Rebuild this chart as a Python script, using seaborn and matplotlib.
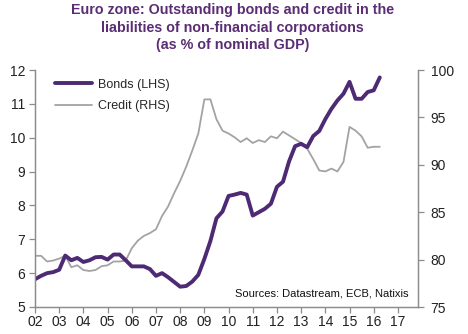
import numpy as np
import pandas as pd
import matplotlib
matplotlib.use("Agg")
import matplotlib.pyplot as plt
import seaborn as sns

# Quarterly data, 2002Q1 .. 2016Q2
quarters = [2002 + 0.25 * i for i in range(58)]
bonds_lhs = [5.82, 5.92, 6.00, 6.03, 6.10, 6.52, 6.38, 6.45, 6.33, 6.38,
             6.47, 6.48, 6.40, 6.55, 6.55, 6.38, 6.20, 6.20, 6.20, 6.12,
             5.92, 6.00, 5.88, 5.74, 5.60, 5.62, 5.75, 5.95, 6.42, 6.95,
             7.62, 7.82, 8.28, 8.32, 8.37, 8.32, 7.70, 7.80, 7.90, 8.05,
             8.55, 8.70, 9.30, 9.75, 9.82, 9.72, 10.05, 10.20, 10.55, 10.85,
             11.10, 11.30, 11.65, 11.15, 11.15, 11.35, 11.40, 11.78]
credit_rhs = [80.4, 80.4, 79.8, 79.9, 80.1, 80.4, 79.2, 79.4, 78.9, 78.8,
              78.9, 79.3, 79.4, 79.8, 79.8, 79.9, 81.2, 82.0, 82.5, 82.8,
              83.2, 84.6, 85.6, 87.0, 88.3, 89.8, 91.5, 93.3, 96.9, 96.9,
              94.8, 93.6, 93.3, 92.9, 92.4, 92.8, 92.3, 92.6, 92.4, 93.0,
              92.8, 93.5, 93.1, 92.7, 92.3, 91.7, 90.6, 89.4, 89.3, 89.6,
              89.3, 90.3, 94.0, 93.6, 93.0, 91.8, 91.9, 91.9]
year_ticks = list(range(2002, 2018))
year_labels = [f"{y % 100:02d}" for y in year_ticks]

title = ("Euro zone: Outstanding bonds and credit in the\n"
         "liabilities of non-financial corporations\n"
         "(as % of nominal GDP)")

df = pd.DataFrame({"t": quarters, "bonds": bonds_lhs, "credit": credit_rhs})

sns.set_style("white")
plt.rcParams["font.family"] = ["Liberation Sans", "DejaVu Sans"]

purple = "#4E2A74"
grey = "#A3A3A3"
spine_c = "#8C8C8C"

fig = plt.figure(figsize=(4.68, 3.34), dpi=100)
ax = fig.add_axes([35 / 468, 1 - 307 / 334, (418 - 35) / 468, (307 - 70) / 334])
ax2 = ax.twinx()

sns.lineplot(data=df, x="t", y="credit", ax=ax2, color=grey, lw=1.3,
             label="Credit (RHS)", legend=False)
sns.lineplot(data=df, x="t", y="bonds", ax=ax, color=purple, lw=2.8,
             label="Bonds (LHS)", legend=False)
ax.set_zorder(ax2.get_zorder() + 1)
ax.patch.set_visible(False)

ax.set_xlim(2002, 2017.83)
ax.set_ylim(5, 12)
ax2.set_ylim(75, 100)
ax.set_yticks(range(5, 13))
ax2.set_yticks(range(75, 101, 5))
ax.set_xticks(year_ticks)
ax.set_xticklabels(year_labels)
ax.set_xlabel("")
ax.set_ylabel("")
ax2.set_ylabel("")

for a in (ax, ax2):
    for s in a.spines.values():
        s.set_color(spine_c)
        s.set_linewidth(0.9)
    a.spines["top"].set_visible(False)
    a.tick_params(colors="#222222", labelsize=10, length=4, width=0.9,
                  color=spine_c)
ax.tick_params(axis="x", bottom=True, direction="out", pad=2)
ax.tick_params(axis="y", left=True, direction="out", pad=3)
ax2.tick_params(axis="y", right=True, direction="out", pad=5)
ax.grid(False)
ax2.grid(False)

h1, l1 = ax.get_legend_handles_labels()
h2, l2 = ax2.get_legend_handles_labels()
ax.legend(h1 + h2, l1 + l2, loc="upper left", frameon=False, fontsize=9,
          handlelength=2.9, handletextpad=0.5, labelspacing=0.75,
          bbox_to_anchor=(0.04, 0.985), borderaxespad=0)

fig.text(0.497, 0.99, title, ha="center", va="top", fontsize=10.3,
         fontweight="bold", color="#5A2D74", linespacing=1.3)
ax.text(0.975, 0.055, "Sources: Datastream, ECB, Natixis", transform=ax.transAxes,
        ha="right", va="center", fontsize=8, color="#111111")

fig.savefig("out.png", dpi=100)
